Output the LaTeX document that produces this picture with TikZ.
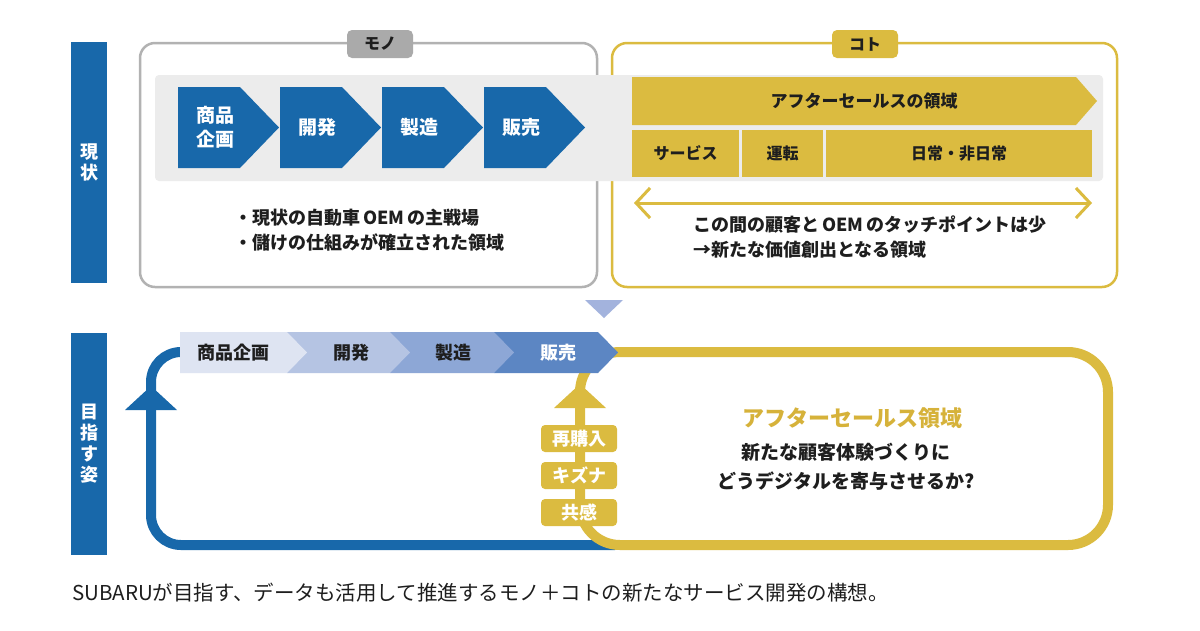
\documentclass[tikz,border=0pt]{standalone}
\usepackage{fontspec}
\setmainfont{Noto Sans CJK JP}
\usetikzlibrary{arrows.meta}
\definecolor{subblue}{RGB}{24,104,170}
\definecolor{gold}{RGB}{219,187,64}
\definecolor{goldtext}{RGB}{214,178,58}
\definecolor{framegray}{RGB}{178,178,178}
\definecolor{taggray}{RGB}{170,170,170}
\definecolor{bandgray}{RGB}{236,236,236}
\definecolor{textdark}{RGB}{30,30,30}
\definecolor{stepA}{RGB}{222,228,242}
\definecolor{stepB}{RGB}{181,196,227}
\definecolor{stepC}{RGB}{141,167,214}
\definecolor{stepD}{RGB}{92,134,195}
\definecolor{tri}{RGB}{163,179,221}

\begin{document}
\begin{tikzpicture}
	[x=1pt,y=-1pt,>={Straight Barb[length=14,width=30]},
		sidebar/.style={fill=subblue,text=white,font=\fontsize{18}{21}\selectfont\bfseries,align=center,minimum width=36,inner sep=0pt},
		tag/.style={rounded corners=5,minimum width=66,minimum height=28,inner sep=0pt,font=\fontsize{16}{18}\selectfont\bfseries,text=textdark},
		frame/.style={rounded corners=15,line width=2.5},
		cell/.style={fill=gold,minimum height=47,inner sep=0pt,font=\fontsize{16}{18}\selectfont\bfseries,text=textdark},
		chevtext/.style={text=white,font=\fontsize{19}{24}\selectfont\bfseries,align=center},
		steptext/.style={text=textdark,font=\fontsize{18}{20}\selectfont\bfseries},
		note/.style={text=textdark,font=\fontsize{18}{25}\selectfont\bfseries,align=left,anchor=north west,inner sep=0pt},
		kizuna/.style={fill=gold,rounded corners=4,minimum width=76,minimum height=27,inner sep=0pt,text=white,font=\fontsize{18}{19}\selectfont\bfseries},
		loopline/.style={line width=10}]

	\useasboundingbox[fill=white] (0,0) rectangle (1200,630);

	\node[sidebar, minimum height=241] (now)  at (89,162.5) {現\\状};
	\node[sidebar, minimum height=222] (goal) at (89,444)   {目\\指\\す\\姿};

	\draw[frame, draw=framegray] (140,43) rectangle (597,287);
	\draw[frame, draw=gold]      (612,43) rectangle (1117,287);
	\fill[bandgray, rounded corners=4] (155,75) rectangle (1103,181);

	\node[tag, fill=taggray] (mono) at (380,44) {モノ};
	\node[tag, fill=gold]    (koto) at (865,44) {コト};

	\foreach \x/\txt in {178/{商品\\企画}, 280/開発, 382/製造, 484/販売}
	{
		\fill[subblue] (\x,87) -- ++(62,0) -- ++(39,40.5) -- ++(-39,40.5) -- ++(-62,0) -- cycle;
		\node[chevtext] at (\x+37,127.5) {\txt};
	}

	\fill[gold] (632,77) -- (1076,77) -- (1097,101) -- (1076,125) -- (632,125) -- cycle;
	\node[steptext, font=\fontsize{17}{20}\selectfont\bfseries] (aftersales) at (864,101) {アフターセールスの領域};
	\node[cell, minimum width=107] (service) at (685.5,153.5) {サービス};
	\node[cell, minimum width=81]  (drive)   at (782.5,153.5) {運転};
	\node[cell, minimum width=266] (daily)   at (959,153.5)   {日常・非日常};

	\coordinate (ta) at (634,203);
	\coordinate (tb) at (1092,203);
	\draw[gold, line width=3, <->] (ta) -- (tb);

	\node[note] (monotext) at (234,209) {・現状の自動車\,OEM\,の主戦場\\・儲けの仕組みが確立された領域};
	\node[note] (kototext) at (693,216) {この間の顧客と\,OEM\,のタッチポイントは少\\→新たな価値創出となる領域};

	\fill[tri] (585,300) -- (623,300) -- (604,318) -- cycle;

	\draw[subblue, loopline, rounded corners=30] (190,352) -- (151,352) -- (151,545) -- (615,545);
	\fill[subblue] (151,386) -- (177,410) -- (125,410) -- cycle;
	\draw[gold, loopline, rounded corners=40] (580,352) rectangle (1108,545);
	\fill[gold] (580,384) -- (606,408) -- (554,408) -- cycle;

	\foreach \xa/\xb/\col in {494/598/stepD, 390/494/stepC, 287/390/stepB, 180/287/stepA}
		\fill[\col] (\xa,332) -- (\xb,332) -- (\xb+20,352.5) -- (\xb,373) -- (\xa,373) -- cycle;
	\node[steptext] (plan)  at (233,352.5) {商品企画};
	\node[steptext] (dev)   at (351,352.5) {開発};
	\node[steptext] (make)  at (453,352.5) {製造};
	\node[steptext, text=white] (sell) at (558,352.5) {販売};

	\node[kizuna] (rebuy)    at (579,438.5) {再購入};
	\node[kizuna] (bond)     at (579,475.5) {キズナ};
	\node[kizuna] (empathy)  at (579,512.5) {共感};

	\node[text=goldtext, font=\fontsize{22}{24}\selectfont\bfseries] (area) at (852,418) {アフターセールス領域};
	\node[text=textdark, font=\fontsize{19}{29}\selectfont\bfseries, align=center] (question) at (846,467) {新たな顧客体験づくりに\\どうデジタルを寄与させるか?};

	\node[anchor=west, inner sep=0pt, text=textdark, font=\fontsize{20.5}{22}\selectfont] (caption) at (72,593) {SUBARUが目指す、データも活用して推進するモノ＋コトの新たなサービス開発の構想。};

\end{tikzpicture}
\end{document}
